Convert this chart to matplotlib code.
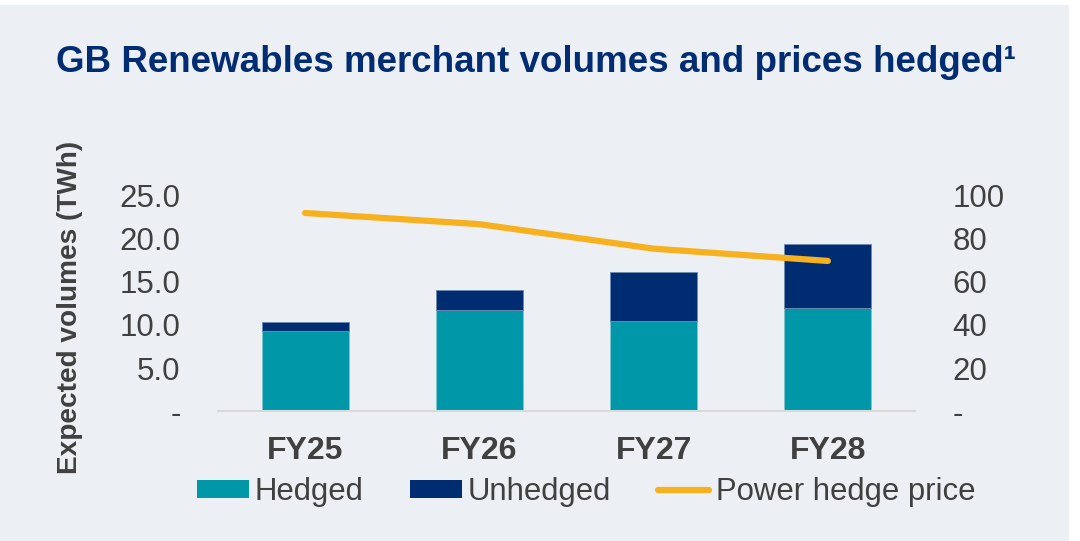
import matplotlib
matplotlib.use("Agg")
import matplotlib.pyplot as plt
from matplotlib.patches import Patch
from matplotlib.lines import Line2D
from matplotlib.ticker import FuncFormatter

categories = ["FY25", "FY26", "FY27", "FY28"]
hedged = [9.3, 11.8, 10.5, 12.0]
unhedged = [1.1, 2.3, 5.7, 7.4]
power_price = [92.1, 86.9, 75.5, 69.8]
left_ticks = [0, 5, 10, 15, 20, 25]
right_ticks = [0, 20, 40, 60, 80, 100]

BG = "#ECEFF4"
TEAL = "#0097A9"
NAVY = "#002D72"
ORANGE = "#F7B11E"
GREY = "#404040"

plt.rcParams['font.family'] = ['Liberation Sans', 'DejaVu Sans']

fig = plt.figure(figsize=(10.8, 5.41), dpi=100, facecolor="white")
# background panel with white border at top and right
fig.patches.append(plt.Rectangle((0, 0), 1069/1080, 1 - 5/541, transform=fig.transFigure,
                                 facecolor=BG, edgecolor="none", zorder=-10))

ax = fig.add_axes([218/1080, 1 - 411/541, (915-218)/1080, (411-196)/541])
ax.set_facecolor("none")
x = list(range(len(categories)))
ax.bar(x, hedged, width=0.5, color=TEAL, edgecolor="#7FC6D0", linewidth=0.6, zorder=2)
ax.bar(x, unhedged, width=0.5, bottom=hedged, color=NAVY, edgecolor="#6F8AB0", linewidth=0.6, zorder=2)
ax.set_xlim(-0.5, 3.5)
ax.set_ylim(0, 25)
ax.set_yticks(left_ticks)
ax.yaxis.set_major_formatter(FuncFormatter(lambda v, p: "-" if v == 0 else f"{v:.1f}"))
ax.set_xticks(x)
ax.set_xticklabels(categories, fontsize=23, fontweight="bold", color=GREY)
ax.tick_params(axis="x", length=0, pad=18)
ax.tick_params(axis="y", length=0, pad=27, labelsize=22.5, labelcolor=GREY)
for s in ["top", "right", "left"]:
    ax.spines[s].set_visible(False)
ax.spines["bottom"].set_color("#D9D9D9")
ax.spines["bottom"].set_linewidth(1.5)
ax.set_ylabel("Expected volumes (TWh)", fontsize=20.2, fontweight="bold", color=GREY)
ax.yaxis.set_label_coords(-135/697, 0.48)

ax2 = ax.twinx()
ax2.plot(x, power_price, color=ORANGE, linewidth=4.5, solid_capstyle="round", zorder=3)
ax2.set_ylim(0, 100)
ax2.set_yticks(right_ticks)
ax2.yaxis.set_major_formatter(FuncFormatter(lambda v, p: "-" if v == 0 else f"{int(v)}"))
ax2.tick_params(axis="y", length=0, pad=27, labelsize=22.5, labelcolor=GREY)
for s in ["top", "right", "left", "bottom"]:
    ax2.spines[s].set_visible(False)

fig.text(536/1080, 1 - 63/541, "GB Renewables merchant volumes and prices hedged¹",
         ha="center", va="center", fontsize=26.5, fontweight="bold", color=NAVY)

handles = [Patch(facecolor=TEAL, edgecolor="none"),
           Patch(facecolor=NAVY, edgecolor="none"),
           Line2D([0], [0], color=ORANGE, linewidth=4.5, solid_capstyle="round")]
leg = fig.legend(handles, ["Hedged", "Unhedged", "Power hedge price"], ncol=3,
                 loc="center", bbox_to_anchor=(586/1080, 1 - 492/541),
                 frameon=False, fontsize=22.4, handlelength=1.67, handleheight=0.55,
                 handletextpad=0.2, columnspacing=1.48, labelcolor=GREY)

fig.savefig("out.png", dpi=100, facecolor="white")
